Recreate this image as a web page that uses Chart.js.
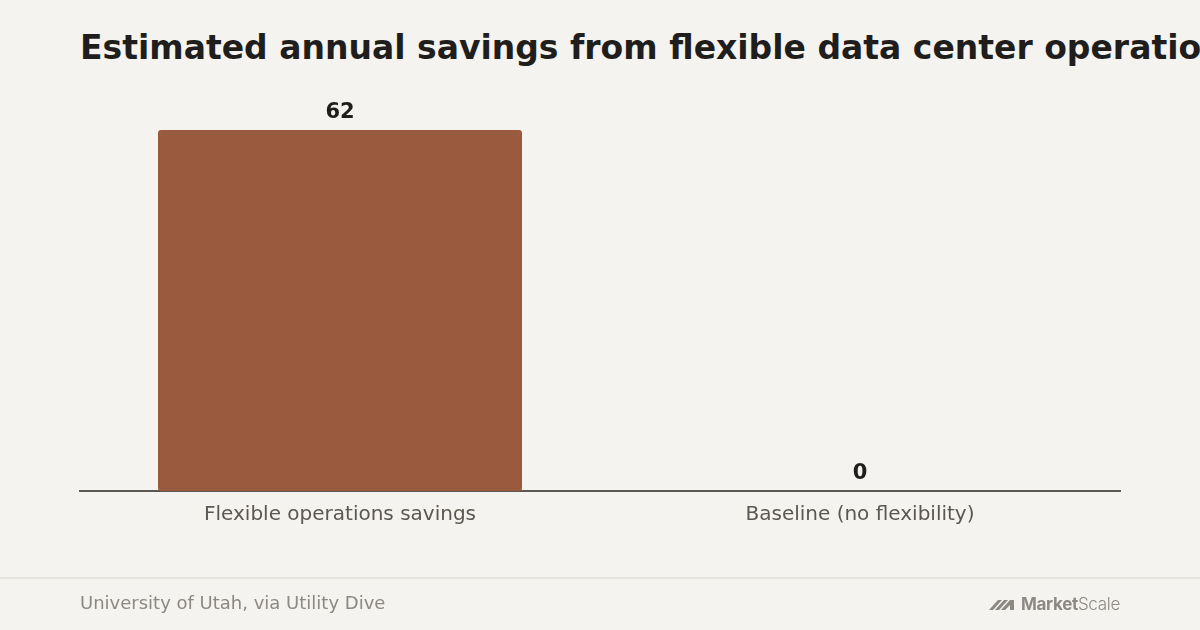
<!DOCTYPE html>
<html>
<head>
<meta charset="utf-8">
<script src="https://cdn.jsdelivr.net/npm/chart.js@4.4.1/dist/chart.umd.min.js"></script>
<style>
  html, body { margin: 0; padding: 0; background: #f4f3ef; }
  #page { position: relative; width: 1200px; height: 630px; overflow: hidden; background: #f4f3ef; }
  #title {
    position: absolute; left: 80px; top: 28px; white-space: nowrap;
    font-family: "DejaVu Sans", sans-serif; font-weight: bold; font-size: 33px; color: #1f1e1c;
  }
  #chartBox { position: absolute; left: 0; top: 0; width: 1200px; height: 578px; }
  #footer {
    position: absolute; left: 0; top: 577px; width: 1200px; height: 53px;
    border-top: 2px solid #e7e4df;
  }
  #source {
    position: absolute; left: 80px; top: 13px;
    font-family: "DejaVu Sans", sans-serif; font-size: 18px; color: #8c8882;
  }
  #logo { position: absolute; right: 80px; top: 15px; display: flex; align-items: center; color: #8c8882; }
  #logo span { font-family: Inter, "Noto Sans", sans-serif; font-size: 17px; letter-spacing: -0.3px; }
</style>
</head>
<body>
<div id="page">
  <div id="title">Estimated annual savings from flexible data center operations</div>
  <div id="chartBox"><canvas id="myChart"></canvas></div>
  <div id="footer">
    <div id="source">University of Utah, via Utility Dive</div>
    <div id="logo">
      <svg width="30" height="14" viewBox="0 0 30 14">
        <polygon points="0,13 9,3 13,3 4,13" fill="#8c8882"/>
        <polygon points="6,13 15,3 19,3 10,13" fill="#8c8882"/>
        <polygon points="12,13 21,3 25,3 25,13 21,13 21,8 16,13" fill="#8c8882"/>
      </svg>
      <span style="font-weight:700; margin-left:2px;">Market</span><span style="font-weight:300;">Scale</span>
    </div>
  </div>
</div>
<script>
let categories = ["Flexible operations savings", "Baseline (no flexibility)"];
let savings = [62, 0];
let yMax = 62;

let ctx = document.getElementById('myChart');

let valueLabels = {
    id: 'valueLabels',
    afterDatasetsDraw(chart) {
        let c = chart.ctx;
        let meta = chart.getDatasetMeta(0);
        c.save();
        c.font = 'bold 21px "DejaVu Sans", sans-serif';
        c.fillStyle = '#1f1e1c';
        c.textAlign = 'center';
        c.textBaseline = 'alphabetic';
        meta.data.forEach(function (bar, i) {
            c.fillText(String(savings[i]), bar.x, bar.y - 12);
        });
        c.restore();
    }
}

makeChart()

function makeChart() {
    const myChart = new Chart(ctx, {
        type: 'bar',
        data: {
            labels: categories,
            datasets: [{
                data: savings,
                backgroundColor: '#9a5a3d',
                borderRadius: 3,
                borderSkipped: false,
                barPercentage: 0.7,
                categoryPercentage: 1.0
            }]
        },
        options: {
            responsive: true,
            maintainAspectRatio: false,
            animation: false,
            layout: { padding: { left: 80, right: 80, top: 130, bottom: 39 } },
            plugins: {
                legend: { display: false },
                tooltip: { enabled: false }
            },
            scales: {
                x: {
                    grid: { display: false, drawTicks: false },
                    border: { display: true, color: '#5b5751', width: 2 },
                    ticks: {
                        color: '#5b5751',
                        padding: 12,
                        font: { family: '"DejaVu Sans", sans-serif', size: 20 }
                    }
                },
                y: {
                    display: false,
                    min: 0,
                    max: yMax
                }
            }
        },
        plugins: [valueLabels]
    });
}
</script>
</body>
</html>
